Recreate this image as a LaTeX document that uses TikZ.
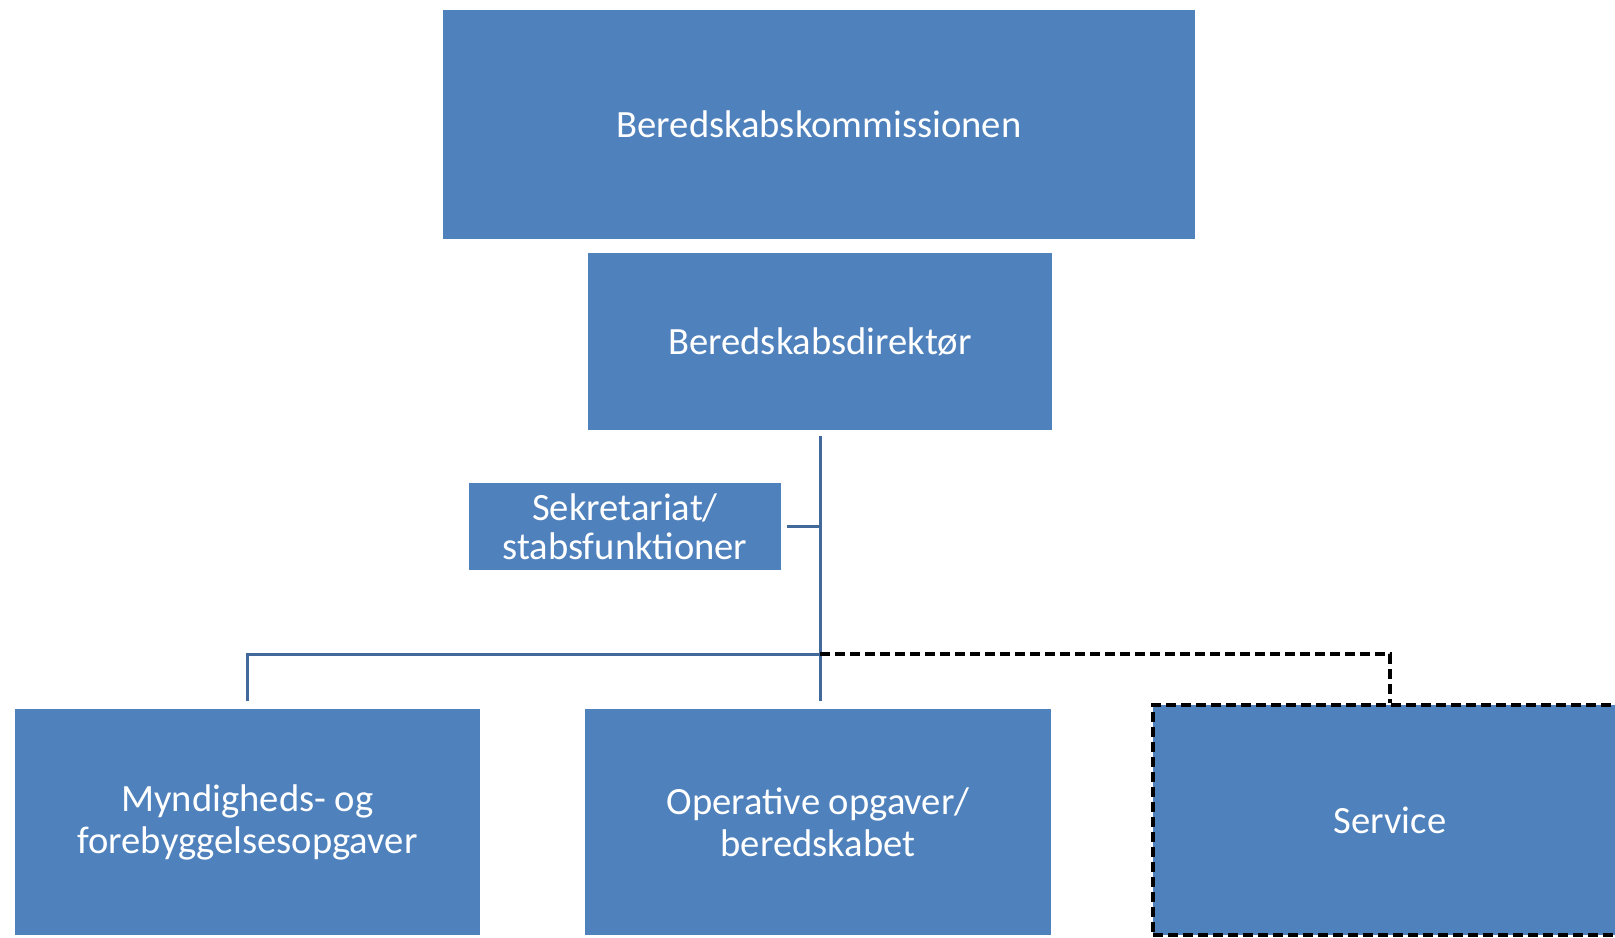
\documentclass[tikz,border=0pt]{standalone}
\usepackage{fontspec}
\setmainfont{Carlito}
\usepackage{tikz}
\usetikzlibrary{positioning}

\definecolor{boxblue}{HTML}{4F81BD}
\definecolor{lineblue}{HTML}{41699B}

\begin{document}
\begin{tikzpicture}[x=0.5pt,y=-0.5pt,
  unit box/.style={rectangle,fill=boxblue,text=white,align=center,inner sep=0pt,
    font=\fontsize{19.3}{21}\selectfont},
  link/.style={draw=lineblue,line width=1.5pt},
  dashlink/.style={draw=black,line width=2pt,dash pattern=on 5pt off 2.5pt}]

  \clip (0,0) rectangle (1615,937);

  \node[unit box, minimum width=376pt, minimum height=114.5pt] (kommission) at (819,124.5) {Beredskabskommissionen};
  \node[unit box, minimum width=232pt, minimum height=88.5pt] (direktor) at (820,341.5) {Beredskabsdirektør};
  \node[unit box, minimum width=156pt, minimum height=43.5pt, font=\fontsize{19.3}{19.5}\selectfont] (sekretariat) at (625,526.5) {Sekretariat/\\stabsfunktioner};

  \node[unit box, minimum width=232.5pt, minimum height=113pt] (myndighed) at (247.5,822) {Myndigheds- og\\forebyggelsesopgaver};
  \node[unit box, minimum width=233pt, minimum height=113pt] (operativ) at (818,822) {Operative opgaver/\\beredskabet};
  \node[unit box, minimum width=237pt, minimum height=115pt, draw=black, line width=2pt,
    dash pattern=on 5pt off 2.5pt] (service) at (1390,820) {Service};

  \coordinate (hub) at (820,654);

  \draw[link, shorten <=3pt, shorten >=4pt] (direktor.south -| hub) -- (operativ.north -| hub);
  \draw[link, shorten <=3pt] (sekretariat.east) -- (sekretariat.east -| hub);
  \draw[link, shorten >=4pt] (hub) -| (myndighed.north);
  \draw[dashlink] (hub) -| (service.north);
\end{tikzpicture}
\end{document}
